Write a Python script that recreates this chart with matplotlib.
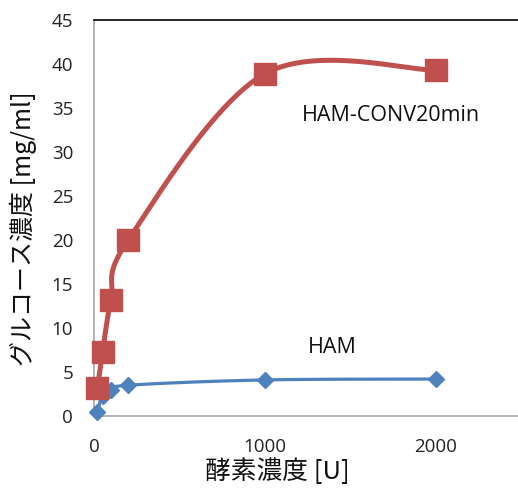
import numpy as np
import matplotlib
matplotlib.use("Agg")
import matplotlib.pyplot as plt

plt.rcParams['font.family'] = ['Open Sans', 'Noto Sans CJK JP', 'DejaVu Sans']

enzyme_red = [20, 50, 100, 200, 1000, 2000]
conv20 = [3.2, 7.3, 13.2, 20.0, 38.9, 39.3]
enzyme_blue = [20, 50, 100, 200, 1000, 2000]
ham = [0.5, 2.3, 2.9, 3.5, 4.1, 4.2]
xticks = [0, 1000, 2000]
yticks = [0, 5, 10, 15, 20, 25, 30, 35, 40, 45]

RED = '#C0504D'
BLUE = '#4F81BD'

fig = plt.figure(figsize=(5.18, 4.92), dpi=100)
ax = fig.add_axes([94/518, 76/492, 427.5/518, 396/492])
ax.set_xlim(0, 2500)
ax.set_ylim(0, 45)


def smooth(ax, xs, ys, n=40):
    """Excel-like smoothing (Catmull-Rom Bezier) computed in display space."""
    pts = ax.transData.transform(np.column_stack([xs, ys]))
    m = len(pts)
    out = []
    for i in range(m - 1):
        p0 = pts[i - 1] if i > 0 else pts[i]
        p1 = pts[i]
        p2 = pts[i + 1]
        p3 = pts[i + 2] if i + 2 < m else pts[i + 1]
        c1 = p1 + (p2 - p0) / 6.0
        c2 = p2 - (p3 - p1) / 6.0
        t = np.linspace(0, 1, n)[:, None]
        seg = ((1 - t) ** 3) * p1 + 3 * ((1 - t) ** 2) * t * c1 + 3 * (1 - t) * t ** 2 * c2 + t ** 3 * p2
        out.append(seg if i == 0 else seg[1:])
    out = np.vstack(out)
    return ax.transData.inverted().transform(out)

fig.canvas.draw()
sb = smooth(ax, enzyme_blue, ham)
sr = smooth(ax, enzyme_red, conv20)

ax.plot(sb[:, 0], sb[:, 1], color=BLUE, lw=2.3, zorder=2, solid_capstyle='round')
ax.plot(enzyme_blue, ham, 'D', color=BLUE, ms=8.5, zorder=3, clip_on=False)
ax.plot(sr[:, 0], sr[:, 1], color=RED, lw=3.6, zorder=4, solid_capstyle='round')
ax.plot(enzyme_red, conv20, 's', color=RED, ms=15.5, zorder=5, clip_on=False)

ax.set_xticks(xticks)
ax.set_yticks(yticks)
ax.tick_params(length=0, labelsize=13.5, colors='#222222')
ax.tick_params(axis='y', pad=15)
ax.tick_params(axis='x', pad=16)

ax.spines['right'].set_visible(False)
ax.spines['left'].set_color('#a6a6a6')
ax.spines['bottom'].set_color('#a6a6a6')
ax.spines['top'].set_color('black')
for s in ['left', 'bottom', 'top']:
    ax.spines[s].set_linewidth(1.2)

fig.text(277/518, 1 - 472/492, '酵素濃度 [U]', ha='center', va='center',
         fontsize=18.5, family=['Noto Sans CJK JP', 'DejaVu Sans'], color='#111111')
fig.text(23/518, 1 - 229/492, 'グルコース濃度 [mg/ml]', ha='center', va='center', rotation=90,
         fontsize=18, family=['Noto Sans CJK JP', 'DejaVu Sans'], color='#111111')

ax.text(1216, 34.2, 'HAM-CONV20min', fontsize=15.5, ha='left', va='center', color='#111111')
ax.text(1251, 7.8, 'HAM', fontsize=15.5, ha='left', va='center', color='#111111')

fig.savefig('out.png', dpi=100)
